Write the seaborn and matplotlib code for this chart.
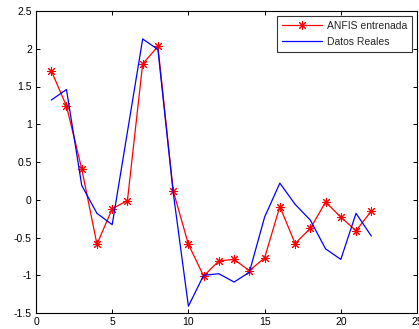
import matplotlib
matplotlib.use("Agg")
import matplotlib.pyplot as plt
import seaborn as sns
import numpy as np

sns.set_theme(style="white")
plt.rcParams['font.family'] = ['Liberation Sans', 'DejaVu Sans']

x = list(range(1, 23))
anfis = [1.71, 1.24, 0.41, -0.59, -0.12, -0.01, 1.80, 2.03, 0.12, -0.59, -1.01,
         -0.81, -0.79, -0.94, -0.77, -0.09, -0.58, -0.38, -0.03, -0.23, -0.41, -0.15]
reales = [1.32, 1.46, 0.19, -0.18, -0.33, 0.90, 2.13, 1.99, 0.10, -1.41, -1.00,
          -0.98, -1.09, -0.96, -0.23, 0.22, -0.06, -0.27, -0.65, -0.79, -0.18, -0.48]
xticks = [0, 5, 10, 15, 20, 25]
yticks = [-1.5, -1, -0.5, 0, 0.5, 1, 1.5, 2, 2.5]
ytick_labels = ['-1.5', '-1', '-0.5', '0', '0.5', '1', '1.5', '2', '2.5']

fig = plt.figure(figsize=(4.19, 3.29), dpi=100)
ax = fig.add_axes([36/419, 1-313/329, (417-36)/419, (313-11)/329])

sns.lineplot(x=x, y=anfis, ax=ax, color='red', marker=(8, 2, 0), markersize=6.5,
             markeredgecolor='red', markeredgewidth=0.75, linewidth=0.9,
             label='ANFIS entrenada')
sns.lineplot(x=x, y=reales, ax=ax, color='blue', linewidth=0.9, label='Datos Reales')

ax.set_xlim(0, 25)
ax.set_ylim(-1.5, 2.5)
ax.set_xticks(xticks)
ax.set_xticklabels([str(t) for t in xticks])
ax.set_yticks(yticks)
ax.set_yticklabels(ytick_labels)
ax.tick_params(direction='in', length=3, width=0.7, labelsize=7.5, colors='black',
               top=True, right=True, bottom=True, left=True, pad=3)
for s in ax.spines.values():
    s.set_visible(True)
    s.set_color('black')
    s.set_linewidth(0.8)
ax.grid(False)

leg = ax.legend(loc='upper right', fontsize=7.5, frameon=True, fancybox=False,
                borderaxespad=0.45, handlelength=3.8, borderpad=0.5, labelspacing=0.55,
                handletextpad=0.5)
leg.get_frame().set_edgecolor('black')
leg.get_frame().set_linewidth(0.8)

fig.savefig('out.png', dpi=100)
